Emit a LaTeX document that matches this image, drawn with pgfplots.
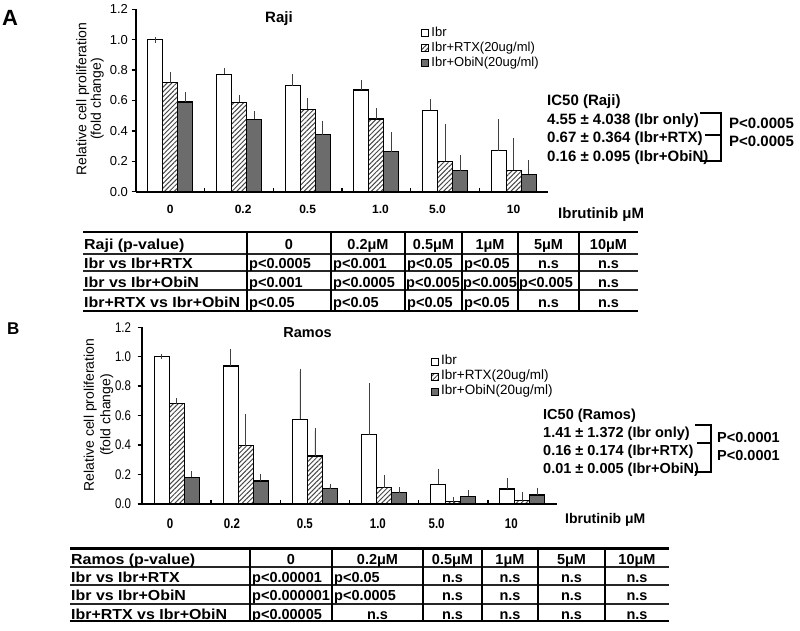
\documentclass[border=0pt]{standalone}
\usepackage{fontspec}
\setmainfont{Liberation Sans}
\newfontfamily\narrowfont[FakeStretch=0.82]{Liberation Sans}
\newfontfamily\widefont[FakeStretch=1.1]{Liberation Sans}
\usepackage{pgfplots}
\usepackage{pgfplotstable}
\pgfplotsset{compat=1.18}
\usetikzlibrary{patterns.meta}
\definecolor{barg}{RGB}{108,108,108}
\definecolor{hatch}{RGB}{70,70,70}
\newcommand\fs[1]{\fontsize{#1}{#1}\selectfont}

\pgfplotstableread{
x y e
0 1.000 0.000
1 0.774 0.022
2 0.697 0.060
3 0.669 0.048
4 0.537 0.053
5 0.270 0.190
}\AIbr
\pgfplotstableread{
x y e
0 0.717 0.055
1 0.588 0.030
2 0.542 0.059
3 0.478 0.053
4 0.200 0.230
5 0.140 0.195
}\ARTX
\pgfplotstableread{
x y e
0 0.590 0.048
1 0.476 0.035
2 0.375 0.075
3 0.263 0.110
4 0.138 0.082
5 0.116 0.074
}\AObi
\pgfplotstableread{
x y e
0 1.000 0.000
1 0.937 0.093
2 0.575 0.325
3 0.470 0.330
4 0.134 0.086
5 0.102 0.056
}\BIbr
\pgfplotstableread{
x y e
0 0.680 0.020
1 0.396 0.197
2 0.326 0.170
3 0.111 0.070
4 0.016 0.012
5 0.023 0.038
}\BRTX
\pgfplotstableread{
x y e
0 0.180 0.025
1 0.156 0.032
2 0.107 0.013
3 0.077 0.018
4 0.054 0.025
5 0.061 0.032
}\BObi

\pgfplotsset{
  panel/.style={
    scale only axis, clip=false,
    ybar=0pt, bar width=15pt,
    xmin=-0.5, xmax=5.5, ymin=0, ymax=1.2,
    axis x line*=bottom, axis y line*=left,
    axis line style={line width=1.8pt, -},
    ytick={0,0.2,0.4,0.6,0.8,1.0,1.2},
    tick align=outside, major tick length=4.5pt,
    y tick style={line width=1.4pt, black},
    x tick style={draw=none},
    /pgf/number format/assume math mode=true,
    yticklabel style={/pgf/number format/fixed, /pgf/number format/fixed zerofill, /pgf/number format/precision=1},
    legend cell align=left,
  },
  ibr/.style={draw=black, fill=white, line width=1.1pt},
  rtx/.style={draw=black, line width=1.1pt, pattern={Lines[angle=45,distance=3.4pt,line width=1.0pt]}, pattern color=hatch},
  obi/.style={draw=black, fill=barg, line width=1.1pt},
  eb/.style={error bars/.cd, y dir=plus, y explicit, error mark=-,
    error bar style={line width=0.7pt, black!75},
    error mark options={line width=0.7pt, black!75, mark size=2.8pt}},
  lg/.style={legend image code/.code={\draw[##1, line width=0.6pt] (0pt,-3.5pt) rectangle (7pt,3.5pt);}},
}

\begin{document}
\begin{tikzpicture}
\path[use as bounding box] (0,0) rectangle (800pt,-630pt);

% ---------------- Panel A axis ----------------
\begin{axis}[panel,
  at={(136pt,-191.7pt)}, anchor=south west,
  width=412pt, height=182.4pt,
  yticklabel style={font=\fs{13}},
  xtick={0,1.06,2.0,3.06,3.89,5.0},
  xticklabels={\textbf{0},\textbf{0.2},\textbf{0.5},\textbf{1.0},\textbf{5.0},\textbf{10}},
  xticklabel style={font=\bfseries\fs{12}, yshift=-5pt},
  legend style={at={(rel axis cs:0.692,0.908)}, anchor=north west, draw=none, fill=none,
    font=\fs{13}, inner sep=0pt, row sep=1pt,
    nodes={inner sep=1pt, text height=9pt, text depth=3pt},
    /tikz/every odd column/.append style={column sep=1.5pt}},
]
\addplot[ibr, lg, eb] table[x=x, y=y, y error=e] {\AIbr};
\addplot[rtx, lg, eb] table[x=x, y=y, y error=e] {\ARTX};
\addplot[obi, lg, eb] table[x=x, y=y, y error=e] {\AObi};
\legend{Ibr, Ibr+RTX(20ug/ml), Ibr+ObiN(20ug/ml)}
\pgfplotsinvokeforeach{0.5,1.5,2.5,3.5,4.5}{\draw[line width=1.5pt] (axis cs:#1,0) -- ++(0pt,4pt);}
\end{axis}

% ---------------- Panel B axis ----------------
\begin{axis}[panel,
  at={(142pt,-504pt)}, anchor=south west,
  width=415pt, height=176.8pt,
  yticklabel style={font=\narrowfont\fs{14}, xshift=-3pt},
  xtick={-0.095,0.8,1.855,2.91,3.76,4.84},
  xticklabels={0,0.2,0.5,1.0,5.0,10},
  xticklabel style={font=\narrowfont\bfseries\fs{14}, yshift=-7pt},
  legend style={at={(rel axis cs:0.696,0.844)}, anchor=north west, draw=none, fill=none,
    font=\fs{13.5}, inner sep=0pt, row sep=1pt,
    nodes={inner sep=1pt, text height=9pt, text depth=3pt},
    /tikz/every odd column/.append style={column sep=1.5pt}},
]
\addplot[ibr, lg, eb] table[x=x, y=y, y error=e] {\BIbr};
\addplot[rtx, lg, eb] table[x=x, y=y, y error=e] {\BRTX};
\addplot[obi, lg, eb] table[x=x, y=y, y error=e] {\BObi};
\legend{Ibr, Ibr+RTX(20ug/ml), Ibr+ObiN(20ug/ml)}
\pgfplotsinvokeforeach{0.5,1.5,2.5,3.5,4.5}{\draw[line width=1.5pt] (axis cs:#1,0) -- ++(0pt,4pt);}
\end{axis}

\begin{scope}[x=1pt, y=-1pt]
% panel letters and titles
\node[anchor=base west, inner sep=0pt, font=\bfseries\fs{22}] at (2,25) {A};
\node[anchor=base west, inner sep=0pt, font=\bfseries\fs{17}] at (7,334) {B};
\node[anchor=base, inner sep=0pt, font=\bfseries\fs{15}] at (279,22.4) {Raji};
\node[anchor=base, inner sep=0pt, font=\bfseries\fs{14.5}] at (307.5,337.3) {Ramos};
% y labels
\node[rotate=90, align=center, inner sep=0pt, font=\fontsize{14}{14.5}\selectfont] at (90,99) {Relative cell proliferation\\(fold change)};
\node[rotate=90, align=center, inner sep=0pt, font=\fontsize{14}{16.5}\selectfont] at (98.5,415) {Relative cell proliferation\\(fold change)};
% x axis titles
\node[anchor=base west, inner sep=0pt, font=\bfseries\fs{15}] at (558,218) {Ibrutinib μM};
\node[anchor=base west, inner sep=0pt, font=\bfseries\fs{14}] at (565,523) {Ibrutinib μM};

% IC50 A
\begin{scope}[every node/.style={anchor=base west, inner sep=0pt, font=\bfseries\fs{15}}]
\node at (547,105.4) {IC50 (Raji)};
\node at (547,124) {4.55 ± 4.038 (Ibr only)};
\node at (547,142.5) {0.67 ± 0.364 (Ibr+RTX)};
\node at (547,161) {0.16 ± 0.095 (Ibr+ObiN)};
\node at (729,128) {P<0.0005};
\node at (729,146.4) {P<0.0005};
\end{scope}
\draw[line width=2.6pt] (700,113) -- (721,113) -- (721,161) -- (700,161);
\draw[line width=2.6pt] (705,135) -- (721,135);

% IC50 B
\begin{scope}[every node/.style={anchor=base west, inner sep=0pt, font=\bfseries\fs{14.5}}]
\node at (543,419.2) {IC50 (Ramos)};
\node at (543,437.2) {1.41 ± 1.372 (Ibr only)};
\node at (543,455.7) {0.16 ± 0.174 (Ibr+RTX)};
\node at (543,473.2) {0.01 ± 0.005 (Ibr+ObiN)};
\node at (717,442) {P<0.0001};
\node at (717,460) {P<0.0001};
\end{scope}
\draw[line width=2.6pt] (695,425) -- (711,425) -- (711,472) -- (695,472);
\draw[line width=2.6pt] (697,443) -- (711,443);

% ---------------- Table A ----------------
\draw[line width=2.4pt] (83,232) -- (638,232);
\foreach \yy in {253.5,271,290} {\draw[line width=2pt, black!85] (83,\yy) -- (638,\yy);}
\draw[line width=2.4pt] (83,311) -- (638,311);
\foreach \xx in {247,331,405,462,518,579} {\draw[line width=1.3pt] (\xx,232) -- (\xx,311);}
\begin{scope}[every node/.style={inner sep=0pt, font=\bfseries\fs{14.5}}]
\node[anchor=base west, font=\widefont\bfseries\fs{14.5}] at (84,249) {Raji (p-value)};
\node[anchor=base] at (289,249) {0};
\node[anchor=base] at (368,249) {0.2μM};
\node[anchor=base] at (433.5,249) {0.5μM};
\node[anchor=base] at (490,249) {1μM};
\node[anchor=base] at (548.5,249) {5μM};
\node[anchor=base] at (608.5,249) {10μM};
\node[anchor=base west, font=\widefont\bfseries\fs{14.5}] at (84,268) {Ibr vs Ibr+RTX};
\node[anchor=base west] at (249,268) {p<0.0005};
\node[anchor=base west] at (333,268) {p<0.001};
\node[anchor=base west] at (407,268) {p<0.05};
\node[anchor=base west] at (464,268) {p<0.05};
\node[anchor=base] at (548.5,268) {n.s};
\node[anchor=base] at (608.5,268) {n.s};
\node[anchor=base west, font=\widefont\bfseries\fs{14.5}] at (84,287) {Ibr vs Ibr+ObiN};
\node[anchor=base west] at (249,287) {p<0.001};
\node[anchor=base west] at (333,287) {p<0.0005};
\node[anchor=base west] at (406,287) {p<0.005};
\node[anchor=base west] at (463,287) {p<0.005};
\node[anchor=base west] at (519,287) {p<0.005};
\node[anchor=base] at (608.5,287) {n.s};
\node[anchor=base west, font=\widefont\bfseries\fs{14.5}] at (84,307) {Ibr+RTX vs Ibr+ObiN};
\node[anchor=base west] at (249,307) {p<0.05};
\node[anchor=base west] at (333,307) {p<0.05};
\node[anchor=base west] at (407,307) {p<0.05};
\node[anchor=base west] at (464,307) {p<0.05};
\node[anchor=base] at (548.5,307) {n.s};
\node[anchor=base] at (608.5,307) {n.s};
\end{scope}

% ---------------- Table B ----------------
\draw[line width=2.4pt] (70,548.3) -- (669,548.3);
\foreach \yy in {567,585,603.5} {\draw[line width=2pt, black!85] (70,\yy) -- (669,\yy);}
\draw[line width=2.4pt] (70,621) -- (669,621);
\foreach \xx in {250,332,423,482,538,605} {\draw[line width=1.3pt] (\xx,548.3) -- (\xx,621);}
\begin{scope}[every node/.style={inner sep=0pt, font=\bfseries\fs{14.5}}]
\node[anchor=base west, font=\widefont\bfseries\fs{14.5}] at (71,564) {Ramos (p-value)};
\node[anchor=base] at (291,564) {0};
\node[anchor=base] at (377.5,564) {0.2μM};
\node[anchor=base] at (452.5,564) {0.5μM};
\node[anchor=base] at (510,564) {1μM};
\node[anchor=base] at (571.5,564) {5μM};
\node[anchor=base] at (637,564) {10μM};
\node[anchor=base west, font=\widefont\bfseries\fs{14.5}] at (71,582) {Ibr vs Ibr+RTX};
\node[anchor=base west] at (252,582) {p<0.00001};
\node[anchor=base west] at (334,582) {p<0.05};
\node[anchor=base] at (452.5,582) {n.s};
\node[anchor=base] at (510,582) {n.s};
\node[anchor=base] at (571.5,582) {n.s};
\node[anchor=base] at (637,582) {n.s};
\node[anchor=base west, font=\widefont\bfseries\fs{14.5}] at (71,600) {Ibr vs Ibr+ObiN};
\node[anchor=base west] at (252,600) {p<0.000001};
\node[anchor=base west] at (334,600) {p<0.0005};
\node[anchor=base] at (452.5,600) {n.s};
\node[anchor=base] at (510,600) {n.s};
\node[anchor=base] at (571.5,600) {n.s};
\node[anchor=base] at (637,600) {n.s};
\node[anchor=base west, font=\widefont\bfseries\fs{14.5}] at (71,619) {Ibr+RTX vs Ibr+ObiN};
\node[anchor=base west] at (252,619) {p<0.00005};
\node[anchor=base] at (377.5,619) {n.s};
\node[anchor=base] at (452.5,619) {n.s};
\node[anchor=base] at (510,619) {n.s};
\node[anchor=base] at (571.5,619) {n.s};
\node[anchor=base] at (637,619) {n.s};
\end{scope}
\end{scope}
\end{tikzpicture}
\end{document}
